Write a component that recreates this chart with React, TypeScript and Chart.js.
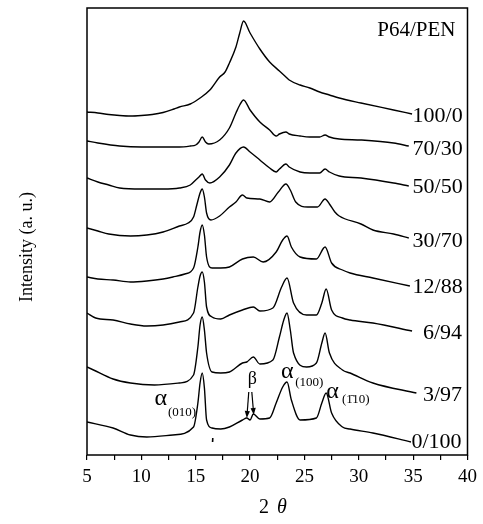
import React, { useEffect, useRef } from "react";
import { Chart, registerables } from "chart.js";

Chart.register(...registerables);

// ---- data (2θ, intensity a.u.) ----
const X_100_0 = [5, 6, 7, 8, 9, 10, 11, 12, 13, 13.5, 14.5, 15.4, 16.3, 17.2, 17.7, 18.1, 18.7, 19.05, 19.4, 20.0, 20.9, 21.8, 22.7, 23.3, 23.6, 24.6, 25.5, 26.4, 27.3, 28.2, 30.2, 33.2, 34.9];
const Y_100_0 = [343, 342, 340.5, 339.5, 339, 339.5, 340.5, 342.5, 346, 348, 351, 357, 365, 378, 383, 392, 408, 422, 434, 422, 406, 393, 384, 378, 375, 370, 367, 363, 360, 357, 352, 345, 341];

const X_70_30 = [5, 6, 8, 10, 12, 13.5, 14.5, 15.0, 15.3, 15.6, 15.9, 16.2, 17.2, 18.1, 18.7, 19.05, 19.4, 20.0, 20.9, 21.8, 22.4, 22.7, 23.3, 23.6, 24.6, 25.5, 26.4, 26.9, 27.3, 28.2, 30.2, 33.2, 34.6];
const Y_70_30 = [314, 312, 309, 308, 308, 308, 309, 310, 313, 318, 313, 311, 315, 327, 342, 350, 355, 345, 333, 325, 319, 321, 323, 321, 319, 318, 318, 320, 318, 316, 315, 312, 309];

const X_50_50 = [5, 6, 7, 8, 10, 12, 13.5, 14.5, 15.0, 15.3, 15.6, 15.9, 16.3, 17.2, 18.1, 18.7, 19.4, 20.0, 20.9, 21.8, 22.4, 22.7, 23.3, 23.6, 24.6, 25.5, 26.4, 26.9, 27.3, 28.2, 30.2, 33.2, 34.6];
const Y_50_50 = [277, 273, 270, 267, 266, 266, 267, 270, 275, 278, 281, 275, 272, 278, 290, 302, 308, 303, 295, 287, 283, 286, 291, 288, 283, 282, 282, 286, 283, 279, 277, 272, 269];

const X_30_70 = [5, 6, 7, 9, 10.5, 12, 13.5, 14.3, 14.8, 15.1, 15.4, 15.6, 15.8, 16.0, 16.4, 17.2, 18.1, 18.7, 19.3, 19.7, 20.9, 21.8, 22.6, 23.3, 23.7, 24.2, 25.3, 26.2, 26.9, 27.3, 27.8, 28.2, 30.2, 31.3, 33.2, 34.6];
const Y_30_70 = [227, 224, 221, 219, 220, 223, 229, 232, 238, 250, 262, 266, 258, 242, 235, 239, 248, 253, 260, 257, 256, 253, 263, 271, 265, 253, 248, 248, 256, 251, 243, 239, 231, 225, 221, 217];

const X_12_88 = [5, 6, 7.4, 9, 10.5, 12, 12.9, 14, 14.8, 15.2, 15.4, 15.6, 15.8, 16.0, 16.5, 17.3, 18.1, 19.3, 20.3, 21.2, 22.4, 23.0, 23.4, 23.8, 24.6, 26.1, 26.9, 27.5, 28.5, 29.2, 31.3, 34.7];
const Y_12_88 = [178, 176, 175, 173, 174, 176, 178, 181, 187, 208, 223, 230, 220, 198, 187, 187, 188, 196, 198, 193, 203, 215, 219, 208, 198, 196, 208, 192, 185, 182, 177, 169];

const X_6_94 = [5, 5.8, 7.4, 9, 10.5, 12, 13.5, 14.8, 15.2, 15.4, 15.6, 15.8, 16.0, 16.5, 17.3, 18.1, 19.3, 20.3, 20.9, 22.1, 22.9, 23.4, 24.0, 25.2, 26.1, 26.6, 27.0, 27.5, 28.5, 29.2, 31.3, 34.9];
const Y_6_94 = [142, 137, 135, 131, 129, 130, 133, 142, 168, 179, 183, 173, 148, 138, 136, 140, 145, 148, 144, 147, 168, 177, 152, 140, 140, 152, 166, 145, 137, 135, 132, 124];

const X_3_97 = [5, 5.6, 7.4, 9, 11.2, 13.5, 14.8, 15.2, 15.4, 15.6, 15.8, 16.0, 16.5, 17.3, 18.1, 19.3, 19.7, 20.3, 20.9, 22.1, 22.7, 23.1, 23.4, 23.7, 24.0, 25.2, 26.1, 26.6, 26.9, 27.3, 28.5, 29.2, 31.3, 35.3];
const Y_3_97 = [88, 85, 76, 72, 70, 72, 80, 108, 130, 138, 125, 102, 83, 82, 83, 92, 93, 98, 91, 95, 118, 135, 142, 125, 102, 88, 92, 112, 122, 102, 85, 82, 72, 62];

const X_0_100 = [5, 7.4, 9, 10.5, 12.9, 14.8, 15.2, 15.4, 15.6, 15.8, 16.0, 16.5, 17.3, 18.1, 19.3, 19.7, 20.0, 20.3, 20.9, 21.8, 22.4, 23.0, 23.4, 23.8, 24.6, 26.1, 26.6, 27.0, 27.5, 28.5, 29.2, 31.3, 34.8];
const Y_0_100 = [33, 27, 20, 18, 20, 28, 52, 72, 82, 67, 35, 27, 26, 28, 35, 37, 35, 41, 36, 37, 52, 68, 73, 55, 35, 37, 52, 62, 42, 28, 26, 22, 13];

const SERIES_NAMES = ["100/0", "70/30", "50/50", "30/70", "12/88", "6/94", "3/97", "0/100"];
const SERIES_X = [X_100_0, X_70_30, X_50_50, X_30_70, X_12_88, X_6_94, X_3_97, X_0_100];
const SERIES_Y = [Y_100_0, Y_70_30, Y_50_50, Y_30_70, Y_12_88, Y_6_94, Y_3_97, Y_0_100];

// label anchors (data coordinates)
const LABEL_X = [34.95, 34.95, 34.95, 34.95, 34.95, 35.9, 35.9, 34.85];
const LABEL_Y = [339, 306, 268, 214, 168, 122, 60, 13];

const X_TICK_STEP = 2.5;
const X_LABEL_STEP = 5;

const SERIF = '"Liberation Serif", "DejaVu Serif", serif';

function arrow(ctx: CanvasRenderingContext2D, x1: number, y1: number, x2: number, y2: number) {
  const ang = Math.atan2(y2 - y1, x2 - x1);
  const len = 7, hw = 2.6;
  const bx = x2 - len * Math.cos(ang), by = y2 - len * Math.sin(ang);
  ctx.beginPath();
  ctx.moveTo(x1, y1);
  ctx.lineTo(bx, by);
  ctx.lineWidth = 1.2;
  ctx.stroke();
  ctx.beginPath();
  ctx.moveTo(x2, y2);
  ctx.lineTo(bx + hw * Math.sin(ang), by - hw * Math.cos(ang));
  ctx.lineTo(bx - hw * Math.sin(ang), by + hw * Math.cos(ang));
  ctx.closePath();
  ctx.fill();
}

const overlay = {
  id: "overlay",
  afterDraw(chart: any) {
    const { ctx, chartArea, scales } = chart;
    const x = scales.x, y = scales.y;
    const px = (v: number) => x.getPixelForValue(v);
    const py = (v: number) => y.getPixelForValue(v);
    ctx.save();
    ctx.strokeStyle = "#000";
    ctx.fillStyle = "#000";
    ctx.lineWidth = 1.5;
    ctx.strokeRect(chartArea.left, chartArea.top, chartArea.right - chartArea.left, chartArea.bottom - chartArea.top);

    // series labels
    ctx.font = `22px ${SERIF}`;
    ctx.textBaseline = "middle";
    ctx.textAlign = "left";
    SERIES_NAMES.forEach((t, i) => ctx.fillText(t, px(LABEL_X[i]), py(LABEL_Y[i])));

    // title inside
    ctx.font = `21px ${SERIF}`;
    ctx.fillText("P64/PEN", px(31.7), py(425));

    // peak annotations
    ctx.textBaseline = "alphabetic";
    const alpha = (ax: number, ay: number, sx: number, sy: number, sub: string) => {
      ctx.font = `24px ${SERIF}`;
      ctx.fillText("α", px(ax), py(ay));
      ctx.font = `13px ${SERIF}`;
      ctx.fillText(sub, px(sx), py(sy));
    };
    alpha(11.2, 50, 12.44, 39, "(010)");
    alpha(22.85, 77, 24.15, 69, "(100)");
    alpha(27.0, 57, 28.45, 52, "(1\u030410)");

    ctx.font = `18px ${SERIF}`;
    ctx.textAlign = "center";
    ctx.fillText("β", px(20.2), py(71));
    arrow(ctx, px(19.88), py(63), px(19.7), py(37));
    arrow(ctx, px(20.16), py(63), px(20.34), py(40));

    // small mark below curve
    ctx.lineWidth = 1.6;
    ctx.beginPath();
    ctx.moveTo(px(16.57), py(17));
    ctx.lineTo(px(16.55), py(13));
    ctx.stroke();

    // axis titles
    ctx.textAlign = "left";
    ctx.font = `20px ${SERIF}`;
    ctx.fillText("2", 259, 513);
    ctx.font = `italic 20px ${SERIF}`;
    ctx.fillText("θ", 277, 513);

    ctx.save();
    ctx.translate(27, 247);
    ctx.rotate(-Math.PI / 2);
    ctx.textAlign = "center";
    ctx.textBaseline = "middle";
    ctx.font = `18px ${SERIF}`;
    ctx.fillText("Intensity (a. u.)", 0, 0);
    ctx.restore();

    ctx.restore();
  },
};

export default function App() {
  const ref = useRef<HTMLCanvasElement>(null);
  useEffect(() => {
    document.body.style.margin = "0";
    const canvas = ref.current!;
    const chart = new Chart(canvas, {
      type: "line",
      data: {
        datasets: SERIES_NAMES.map((name, i) => ({
          label: name,
          data: SERIES_X[i].map((xv, j) => ({ x: xv, y: SERIES_Y[i][j] })),
          borderColor: "#000",
          borderWidth: 1.4,
          pointRadius: 0,
          fill: false,
          cubicInterpolationMode: "monotone" as const,
        })),
      },
      options: {
        responsive: false,
        animation: false,
        devicePixelRatio: 1,
        layout: { padding: { left: 87, right: 15, top: 8, bottom: 0 } },
        plugins: { legend: { display: false }, tooltip: { enabled: false }, title: { display: false } },
        scales: {
          x: {
            type: "linear",
            min: 5,
            max: 40,
            afterFit: (s: any) => { s.height = 69; },
            border: { display: false },
            grid: { display: true, drawOnChartArea: false, drawTicks: true, tickLength: 5, color: "#000", lineWidth: 1.2 },
            ticks: {
              stepSize: X_TICK_STEP,
              autoSkip: false,
              maxRotation: 0,
              color: "#000",
              padding: 6,
              font: { family: SERIF, size: 19 },
              callback: (v: any) => (Number(v) % X_LABEL_STEP === 0 ? String(v) : ""),
            },
          },
          y: { display: false, min: 0, max: 447 },
        },
      },
      plugins: [overlay],
    });
    return () => chart.destroy();
  }, []);
  return (
    <div style={{ width: 483, height: 524, background: "#fff" }}>
      <canvas ref={ref} width={483} height={524} />
    </div>
  );
}
